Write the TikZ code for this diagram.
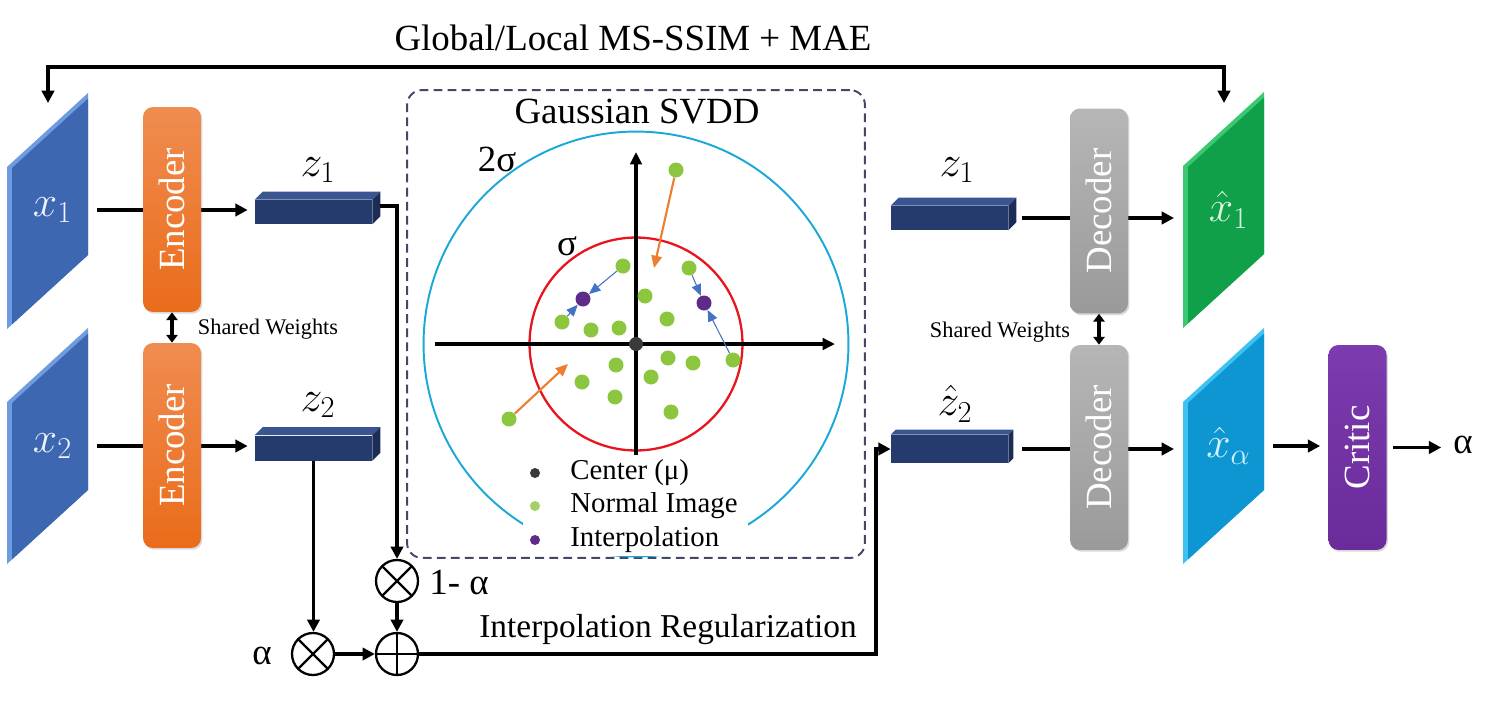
\documentclass[tikz,border=0pt]{standalone}
\usepackage{fontspec}
\setmainfont{Liberation Serif}
\usetikzlibrary{arrows.meta,calc,shadows}
\pgfdeclarelayer{bg}
\pgfsetlayers{bg,main}
\definecolor{slabB}{HTML}{3E67B1}
\definecolor{slabBl}{HTML}{6F9BE0}
\definecolor{slabG}{HTML}{10A04A}
\definecolor{slabGl}{HTML}{3CC872}
\definecolor{slabC}{HTML}{0E96D3}
\definecolor{slabCl}{HTML}{3EC2F2}
\definecolor{encT}{HTML}{F08C50}
\definecolor{encB}{HTML}{EA6C1A}
\definecolor{decT}{HTML}{B6B6B6}
\definecolor{decB}{HTML}{9A9A9A}
\definecolor{critT}{HTML}{7C3BAE}
\definecolor{critB}{HTML}{6A2B9B}
\definecolor{zF}{HTML}{253B6E}
\definecolor{zT}{HTML}{3A5590}
\definecolor{zR}{HTML}{1B2D57}
\definecolor{boxc}{HTML}{444868}
\definecolor{ringB}{HTML}{1BA8D8}
\definecolor{ringR}{HTML}{E8141E}
\definecolor{gdotc}{HTML}{8CC63F}
\definecolor{pdotc}{HTML}{5E2B88}
\definecolor{cdotc}{HTML}{3A3A3A}
\definecolor{oarrc}{HTML}{ED7D31}
\definecolor{barrc}{HTML}{4472C4}
\definecolor{lblB}{HTML}{EEF3FC}
\definecolor{lblG}{HTML}{D8F7E2}
\definecolor{lblC}{HTML}{D4F3FF}
\newcommand{\slabshape}[4]{%
  \fill[#4] (#1,#2) -- ({#1+81},{#2-74}) -- ({#1+81},{#2+88}) -- (#1,{#2+162}) -- cycle;
  \fill[#3] ({#1+5},{#2+1}) -- ({#1+81},{#2-68.4}) -- ({#1+81},{#2+88}) -- ({#1+5},{#2+157.4}) -- cycle;
}
\newcommand{\zfaces}[1]{%
  \fill[zT] (#1.north west) -- ++(8,-8) -- ($(#1.north east)+(8,-8)$) -- (#1.north east) -- cycle;
  \fill[zR] (#1.north east) -- ++(8,-8) -- ($(#1.south east)+(8,-8)$) -- (#1.south east) -- cycle;
}
\newcommand{\shiftlbl}[1]{\raisebox{-0.13cm}{\hspace*{0.2cm}#1}}
\begin{document}
\begin{tikzpicture}[x=0.02cm,y=-0.02cm,
  conn/.style={line width=1.9pt,-{Triangle[length=7pt,width=7pt]}},
  dconn/.style={line width=1.9pt,{Triangle[length=4.5pt,width=6.5pt]}-{Triangle[length=4.5pt,width=6.5pt]}},
  blk/.style={rounded corners=0.2cm,minimum width=1.16cm,minimum height=4.1cm,inner sep=0pt,
     text=white,font=\fontsize{21}{21}\selectfont,
     drop shadow={opacity=0.3,shadow xshift=0.8pt,shadow yshift=-1pt}},
  encbox/.style={blk,top color=encT,bottom color=encB},
  decbox/.style={blk,top color=decT,bottom color=decB},
  critbox/.style={blk,top color=critT,bottom color=critB},
  zblk/.style={fill=zF,minimum width=2.34cm,minimum height=0.48cm,inner sep=0pt},
  slabn/.style={minimum width=1.62cm,minimum height=3.24cm,inner sep=0pt,outer sep=0.18cm,
     font=\fontsize{25}{25}\selectfont},
  mlbl/.style={font=\fontsize{25}{25}\selectfont,inner sep=0pt},
  txt/.style={font=\fontsize{21}{25}\selectfont,inner sep=1pt},
  optxt/.style={circle,draw,line width=1.3pt,minimum size=0.84cm,inner sep=0pt},
  otimes/.style={optxt,path picture={\draw[line width=1.3pt]
     (path picture bounding box.north west) -- (path picture bounding box.south east)
     (path picture bounding box.north east) -- (path picture bounding box.south west);}},
  oplus/.style={optxt,path picture={\draw[line width=1.3pt]
     (path picture bounding box.north) -- (path picture bounding box.south)
     (path picture bounding box.east) -- (path picture bounding box.west);}},
  gdot/.style={circle,fill=gdotc,minimum size=0.3cm,inner sep=0pt},
  pdot/.style={circle,fill=pdotc,minimum size=0.3cm,inner sep=0pt},
  oarr/.style={oarrc,line width=1.2pt,-{Triangle[length=7pt,width=6pt]}},
  barr/.style={barrc,line width=0.6pt,-{Triangle[length=6.5pt,width=5.5pt]}},
  legtxt/.style={font=\fontsize{16.4}{18}\selectfont,anchor=west,inner sep=0pt},
  swtxt/.style={font=\fontsize{12.7}{14}\selectfont,inner sep=0pt}
]
\useasboundingbox (0,0) rectangle (1494,700);

% ---------- slabs ----------
\slabshape{7}{167}{slabB}{slabBl}
\slabshape{7}{402}{slabB}{slabBl}
\slabshape{1183}{166}{slabG}{slabGl}
\slabshape{1183}{402}{slabC}{slabCl}
\node[slabn,text=lblB] (x1) at (47.5,210) {\shiftlbl{$x_1$}};
\node[slabn,text=lblB] (x2) at (47.5,446) {\shiftlbl{$x_2$}};
\node[slabn,text=lblG] (xh1) at (1223.5,210) {\shiftlbl{$\hat{x}_1$}};
\node[slabn,text=lblC] (xa) at (1223.5,446) {\shiftlbl{$\hat{x}_{\alpha}$}};

% ---------- encoder / decoder / critic ----------
\node[encbox] (e1) at (172,209.5) {\rotatebox{90}{Encoder}};
\node[encbox] (e2) at (172,445.5) {\rotatebox{90}{Encoder}};
\node[decbox] (d1) at (1099,211) {\rotatebox{90}{Decoder}};
\node[decbox] (d2) at (1099,447.5) {\rotatebox{90}{Decoder}};
\node[critbox] (cr) at (1357.5,447.5) {\rotatebox{90}{Critic}};

% ---------- latent blocks ----------
\node[zblk] (z1) at (313.5,212) {};
\zfaces{z1}
\node[zblk,minimum height=0.5cm] (z2) at (313.5,448) {};
\zfaces{z2}
\node[zblk] (z1r) at (949.5,218) {};
\zfaces{z1r}
\node[zblk,minimum height=0.56cm] (z2h) at (949.5,449) {};
\fill[zT] (z2h.north west) -- ++(5,-5) -- ($(z2h.north east)+(5,-5)$) -- (z2h.north east) -- cycle;
\fill[zR] (z2h.north east) -- ++(5,-5) -- ($(z2h.south east)+(5,-5)$) -- (z2h.south east) -- cycle;
\node[mlbl] (z1l) at (318,170) {$z_1$};
\node[mlbl] (z2l) at (318,405) {$z_2$};
\node[mlbl] (z1rl) at (957,170) {$z_1$};
\node[mlbl] (z2hl) at (955,404) {$\hat{z}_2$};

% ---------- operators ----------
\node[otimes] (om1) at (397,581) {};
\node[otimes] (om2) at (313,654) {};
\node[oplus] (op) at (397,654) {};
\node[txt] (oma) at (459,582) {1- α};
\node[txt] (al) at (262,656) {α};
\coordinate (bend) at (876,654);

% ---------- texts ----------
\node[txt] (title) at (633,38) {Global/Local MS-SSIM + MAE};
\node[font=\fontsize{19}{21}\selectfont,inner sep=1pt] (ir) at (668,630) {Interpolation Regularization};
\node[swtxt] (sw1) at (268,329) {Shared Weights};
\node[swtxt] (sw2) at (1000,332) {Shared Weights};
\node[txt] (aout) at (1463,445) {α};

% ---------- feedback coordinates ----------
\coordinate (tl) at (48,67);
\coordinate (tr) at (1224,67);
\coordinate (x1top) at (48,103);
\coordinate (xh1top) at (1224,103);

% ---------- Gaussian SVDD ----------
\node[draw=boxc,dashed,dash pattern=on 5pt off 3pt,line width=1.1pt,rounded corners=0.3cm,
      minimum width=9.16cm,minimum height=9.36cm] (svdd) at (636,324) {};
\node[txt] (svt) at (637,112) {Gaussian SVDD};
\draw[ringB,line width=1.1pt] (636,344) circle [radius=4.25cm];
\fill[white] (523,457) rectangle (748,556);
\draw[ringR,line width=1.3pt] (636,344) circle [radius=2.13cm];
\coordinate (axL) at (435,344);
\coordinate (axR) at (835,344);
\coordinate (axB) at (636,455);
\coordinate (axT) at (636,152);
\draw[line width=1.8pt,-{Triangle[length=7pt,width=6.5pt]}] (axL) -- (axR);
\draw[line width=1.8pt,-{Triangle[length=7pt,width=6.5pt]}] (axB) -- (axT);
\node[txt] (sig2) at (497,159) {2σ};
\node[txt] (sig1) at (567,246) {σ};
\node[circle,fill=cdotc,minimum size=0.28cm,inner sep=0pt] (c0) at (636,344) {};
\foreach \n/\px/\py in {1/676/170,2/623/266,3/689/268,4/645/296,5/667/319,6/562/322,
   7/591/330,8/619/328,9/733/360,10/668/358,11/693/363,12/616/365,13/582/382,
   14/651/377,15/615/397,16/671/412,17/509/419}
  \node[gdot] (g\n) at (\px,\py) {};
\node[pdot] (p1) at (583,299) {};
\node[pdot] (p2) at (704,303) {};
\coordinate (oa1) at (654,268);
\coordinate (oa2) at (568,364);
\draw[oarr] (g1) -- (oa1);
\draw[oarr] (g17) -- (oa2);
\draw[barr] (g2) -- (p1);
\draw[barr] (g6) -- (p1);
\draw[barr] (g3) -- (p2);
\draw[barr] (g9) -- (p2);
% legend
\node[circle,fill=cdotc,minimum size=0.2cm,inner sep=0pt] (l1) at (535,473) {};
\node[circle,fill=gdotc!80!white,minimum size=0.2cm,inner sep=0pt] (l2) at (535,506) {};
\node[circle,fill=pdotc,minimum size=0.2cm,inner sep=0pt] (l3) at (535,540) {};
\node[legtxt] (lt1) at (570,473) {Center (μ)};
\node[legtxt] (lt2) at (570,506) {Normal Image};
\node[legtxt] (lt3) at (570,540) {Interpolation};

% ---------- connectors ----------
\begin{pgfonlayer}{bg}
\draw[conn,shorten >=0.14cm] (x1.east) -- (x1.east -| z1.west);
\draw[conn,shorten >=0.14cm] (x2.east) -- (x2.east -| z2.west);
\draw[conn,shorten <=0.28cm] (z1r.east) -- (z1r.east -| xh1.west);
\draw[conn,shorten <=0.28cm] (z2h.east) -- (z2h.east -| xa.west);
\end{pgfonlayer}
\draw[conn] ($(z1.east)+(8,-6)$) -| (om1.north);
\draw[conn] (z2.south) -- (z2.south |- om2.north);
\draw[conn] (om2) -- (op);
\draw[conn] (om1) -- (op);
\draw[conn] (op.east) -- (bend) |- (z2h.west);
\draw[conn,shorten >=0.16cm] (xa.east) -- (xa.east -| cr.west);
\draw[conn,shorten <=0.12cm,shorten >=0.2cm] (cr.east) -- (cr.east -| aout.west);
\draw[dconn] (e1.south) -- (e2.north);
\draw[dconn] (d1.south) -- (d2.north);
\draw[line width=1.9pt,line join=miter,{Triangle[length=7pt,width=7pt]}-{Triangle[length=7pt,width=7pt]}]
  (x1top) -- (tl) -- (tr) -- (xh1top);
\end{tikzpicture}
\end{document}
